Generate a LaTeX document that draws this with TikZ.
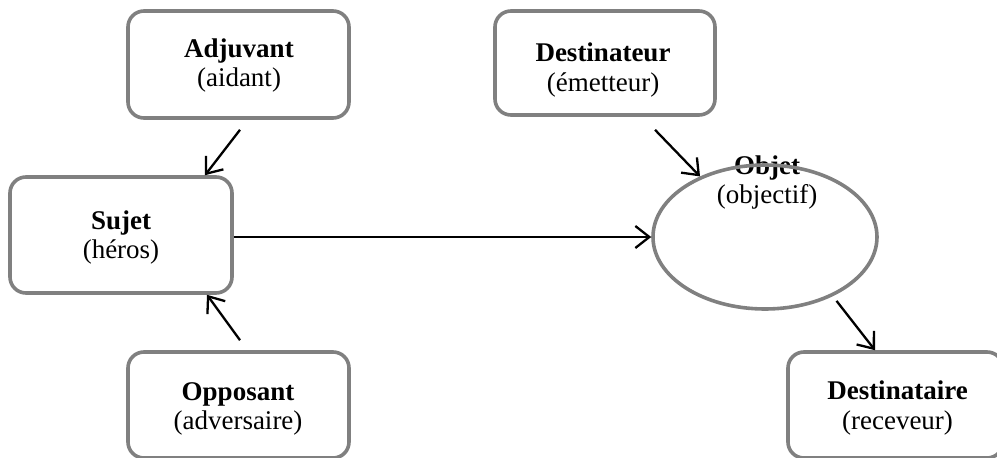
\documentclass[tikz,border=0pt]{standalone}
\usepackage{fontspec}
\setmainfont{Liberation Serif}
\usetikzlibrary{arrows.meta,shapes.geometric,calc}
\definecolor{bordergray}{RGB}{128,128,128}
\begin{document}
\begin{tikzpicture}[x=1pt,y=-1pt,
  box/.style={draw=bordergray, line width=3.6pt, rounded corners=16pt, inner sep=0pt},
  oval/.style={draw=bordergray, line width=3.6pt, ellipse, inner sep=0pt},
  txt/.style={align=center, font=\fontsize{27}{29.5}\selectfont, inner sep=0pt},
  arr/.style={draw=black, line width=2.3pt, -{Straight Barb[length=14pt,width=22pt]}}]
\useasboundingbox (0,0) rectangle (997,458);
\clip (0,0) rectangle (997,458);
% boxes
\node[box, minimum width=221pt, minimum height=107pt] (adj) at (238.5,64.5) {};
\node[box, minimum width=220pt, minimum height=104pt] (dest) at (605,63) {};
\node[box, minimum width=222pt, minimum height=116pt] (suj) at (121,235) {};
\node[box, minimum width=221pt, minimum height=106pt] (opp) at (238.5,405) {};
\node[box, minimum width=215pt, minimum height=106pt] (dtaire) at (895.5,405) {};
% texts
\node[txt] (adjt) at (239,65.5) {\textbf{Adjuvant}\\(aidant)};
\node[txt] (destt) at (603,70) {\textbf{Destinateur}\\(émetteur)};
\node[txt] (sujt) at (121,237.5) {\textbf{Sujet}\\(héros)};
\node[txt] (oppt) at (238,409) {\textbf{Opposant}\\(adversaire)};
\node[txt] (dtairet) at (897.5,408) {\textbf{Destinataire}\\(receveur)};
\node[txt] (objt) at (767,182.5) {\textbf{Objet}\\(objectif)};
% ellipse
\node[oval, minimum width=224pt, minimum height=144pt] (obj) at (765,237) {};
% connectors
\draw[arr] ($(adj.south)+(1.5,10)$) -- ($(suj.north)+(84,0)$);
\draw[arr] ($(opp.north)+(1.5,-10)$) -- ($(suj.south)+(86,0)$);
\draw[arr] (suj.east |- obj.west) -- (obj.west);
\draw[arr] ($(dest.south)+(50,13)$) -- (obj.137);
\draw[arr] ($(obj.-42)+(5,4)$) -- ($(dtaire.north)+(-20.5,0)$);
\end{tikzpicture}
\end{document}
